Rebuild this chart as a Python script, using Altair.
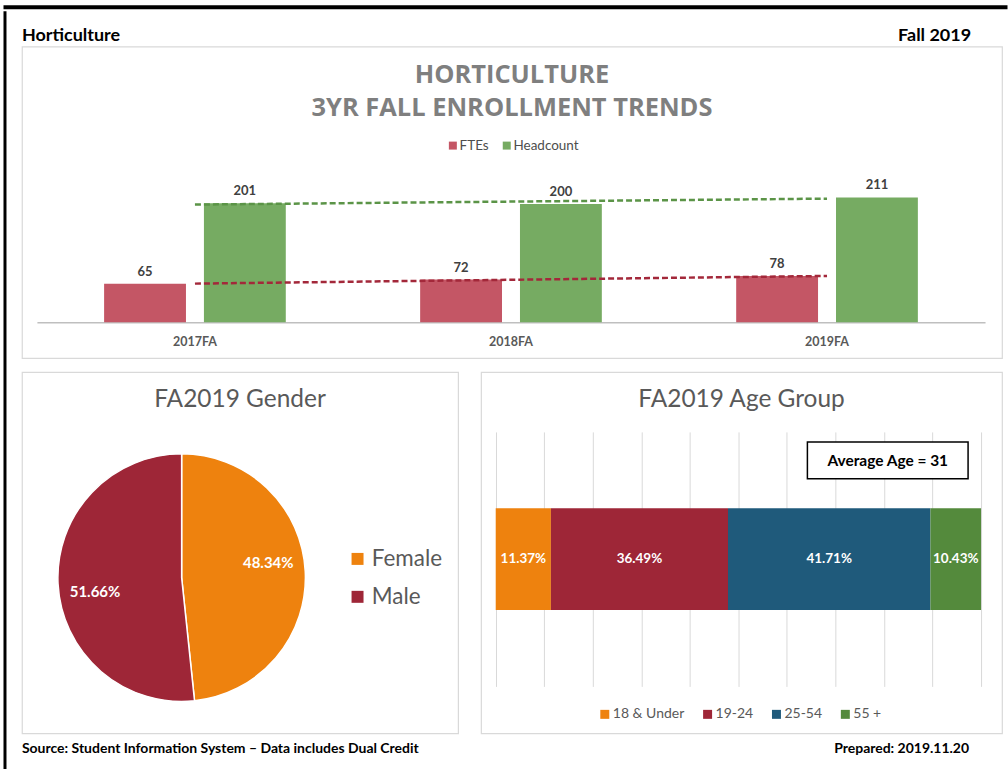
import altair as alt
import pandas as pd

# ---------------- data ----------------
terms = ["2017FA", "2018FA", "2019FA"]
term_index = [1, 2, 3]
ftes = [65, 72, 78]
headcount = [201, 200, 211]
series_names = ["FTEs", "Headcount"]

genders = ["Female", "Male"]
gender_pct = [48.34, 51.66]

age_groups = ["18 & Under", "19-24", "25-54", "55 +"]
age_pct = [11.37, 36.49, 41.71, 10.43]
average_age = 31

header_left = "Horticulture"
header_right = "Fall 2019"
footer_left = "Source: Student Information System \u2013 Data includes Dual Credit"
footer_right = "Prepared: 2019.11.20"
top_title_1 = "HORTICULTURE"
top_title_2 = "3YR FALL ENROLLMENT TRENDS"
gender_title = "FA2019 Gender"
age_title = "FA2019 Age Group"

# ---------------- styles ----------------
FONT = "Lato"
FTE_C = "#c45665"
HC_C = "#76ab62"
FTE_LINE = "#a3283a"
HC_LINE = "#5b9447"
ORANGE = "#ee820e"
DRED = "#9e2637"
BLUE = "#1f5a7b"
GREEN = "#548a3c"
PANEL = alt.ViewBackground(stroke="#d9d9d9", strokeWidth=1.2, fill="white")
NOFRAME = alt.ViewBackground(stroke="transparent", fill="white")

rows = []
for t, i, f, h in zip(terms, term_index, ftes, headcount):
    rows.append({"term": t, "idx": i, "series": series_names[0], "value": f})
    rows.append({"term": t, "idx": i, "series": series_names[1], "value": h})
enroll = pd.DataFrame(rows)

def txt(s):
    return pd.DataFrame({"t": [s]})

# ---------------- top panel ----------------
TW, TH = 982, 312
xs = alt.Scale(domain=terms, range=[15, 965], paddingInner=0, paddingOuter=0)
ys = alt.Scale(domain=[0, 250], range=[276, 128], nice=False, zero=True)
x_axis = alt.Axis(title=None, labelAngle=0, ticks=False, domainColor="#bfbfbf",
                  domainWidth=1.5, labelColor="#595959", labelFont=FONT,
                  labelFontWeight="bold", labelFontSize=12.5, labelPadding=13,
                  offset=-36)
xo = alt.XOffset("series:N", sort=series_names,
                 scale=alt.Scale(domain=series_names, paddingInner=0.18, paddingOuter=0.673))

bars = alt.Chart(enroll).mark_bar().encode(
    x=alt.X("term:N", sort=terms, scale=xs, axis=x_axis),
    xOffset=xo,
    y=alt.Y("value:Q", scale=ys, axis=None),
    color=alt.Color("series:N", sort=series_names,
                    scale=alt.Scale(domain=series_names, range=[FTE_C, HC_C]),
                    legend=alt.Legend(title=None, orient="none", legendX=425, legendY=92,
                                      direction="horizontal", symbolType="square",
                                      symbolSize=64, symbolStrokeWidth=0, labelFont=FONT,
                                      labelFontSize=13.5, labelColor="#4d4d4d",
                                      labelOffset=0, columnPadding=11)),
)
bar_labels = alt.Chart(enroll).mark_text(
    dy=-5, baseline="bottom", font=FONT, fontWeight="bold", fontSize=13, color="#404040"
).encode(
    x=alt.X("term:N", sort=terms, scale=xs, axis=x_axis),
    xOffset=xo,
    y=alt.Y("value:Q", scale=ys, axis=None),
    text="value:Q",
)

def trend(name, col):
    return alt.Chart(enroll).transform_filter(
        alt.datum.series == name
    ).transform_regression("idx", "value").mark_line(
        color=col, strokeDash=[6, 3], strokeWidth=2.5
    ).encode(
        x=alt.X("idx:Q", scale=alt.Scale(domain=[0.5, 3.5], range=[15, 965], nice=False, zero=False),
                axis=None),
        y=alt.Y("value:Q", scale=ys, axis=None),
    )

t1 = alt.Chart(txt(top_title_1)).mark_text(
    font="Open Sans", fontWeight="bold", fontSize=25.5, color="#7f7f7f", baseline="middle"
).encode(x=alt.value(491), y=alt.value(28), text="t:N")
t2 = alt.Chart(txt(top_title_2)).mark_text(
    font="Open Sans", fontWeight="bold", fontSize=25.5, color="#7f7f7f", baseline="middle"
).encode(x=alt.value(491), y=alt.value(61), text="t:N")

top_panel = alt.layer(
    alt.layer(bars, bar_labels), trend(series_names[0], FTE_LINE), trend(series_names[1], HC_LINE), t1, t2
).resolve_scale(x="independent").properties(width=TW, height=TH, view=PANEL)

# ---------------- gender pie ----------------
gdf = pd.DataFrame({"gender": genders, "pct": gender_pct, "order": list(range(len(genders)))})
PW, PH = 437, 362
CX, CY = 160, 206
gcolor = alt.Color("gender:N", sort=genders, scale=alt.Scale(domain=genders, range=[ORANGE, DRED]),
                   legend=alt.Legend(title=None, orient="none", legendX=325, legendY=176,
                                     symbolType="square", symbolSize=144, symbolStrokeWidth=0,
                                     labelFont=FONT, labelFontSize=22.5, labelColor="#595959",
                                     labelOffset=3, rowPadding=15))
arcs = alt.Chart(gdf).mark_arc(outerRadius=124, stroke="white", strokeWidth=1.5).encode(
    theta=alt.Theta("pct:Q", stack=True),
    color=gcolor,
    order=alt.Order("order:Q"),
    x=alt.value(CX), y=alt.value(CY),
)
arc_text = alt.Chart(gdf).transform_calculate(
    label="format(datum.pct, '.2f') + '%'"
).mark_text(radius=88, font=FONT, fontWeight="bold", fontSize=15, color="white").encode(
    theta=alt.Theta("pct:Q", stack=True, scale=alt.Scale(range=[-0.113, 6.170])),
    order=alt.Order("order:Q"),
    text="label:N",
    x=alt.value(CX), y=alt.value(CY),
)
g_title = alt.Chart(txt(gender_title)).mark_text(
    font=FONT, fontSize=24.5, color="#595959", baseline="middle"
).encode(x=alt.value(PW / 2), y=alt.value(28), text="t:N")
pie_panel = alt.layer(arcs, arc_text, g_title).resolve_scale(theta="independent").properties(
    width=PW, height=PH, view=PANEL)

# ---------------- age stacked bar ----------------
AW, AH = 522, 362
adf = pd.DataFrame({"group": age_groups, "pct": age_pct, "idx": list(range(len(age_groups))),
                    "grp": ["all"] * len(age_groups)})
axs = alt.Scale(domain=[0, 100], range=[14.7, 501], nice=False, zero=False)
ays = alt.Scale(domain=["all"], range=[60, 315], paddingInner=0, paddingOuter=0.75)
age_axis = alt.Axis(orient="top", values=list(range(0, 101, 10)), grid=True,
                    gridColor="#d9d9d9", gridWidth=1, labels=False, ticks=False,
                    domain=False, title=None)
abase = alt.Chart(adf).transform_stack(
    stack="pct", groupby=["grp"], as_=["x0", "x1"], sort=[alt.SortField("idx")]
).transform_calculate(
    mid="(datum.x0 + datum.x1) / 2", label="format(datum.pct, '.2f') + '%'"
)
abar = abase.mark_bar().encode(
    x=alt.X("x0:Q", scale=axs, axis=age_axis),
    x2="x1:Q",
    y=alt.Y("grp:N", scale=ays, axis=None),
    color=alt.Color("group:N", sort=age_groups,
                    scale=alt.Scale(domain=age_groups, range=[ORANGE, DRED, BLUE, GREEN]),
                    legend=alt.Legend(title=None, orient="none", legendX=117, legendY=336,
                                      direction="horizontal", symbolType="square",
                                      symbolSize=81, symbolStrokeWidth=0, labelFont=FONT,
                                      labelFontSize=14, labelColor="#595959",
                                      labelOffset=1, columnPadding=16)),
)
atext = abase.mark_text(font=FONT, fontWeight="bold", fontSize=13.5, color="white").encode(
    x=alt.X("mid:Q", scale=axs, axis=age_axis),
    y=alt.Y("grp:N", scale=ays, axis=None),
    text="label:N",
)
avg_box = alt.Chart(txt("box")).mark_rect(fill="white", stroke="black", strokeWidth=1.5).encode(
    x=alt.value(327), x2=alt.value(488), y=alt.value(70), y2=alt.value(107)
)
avg_text = alt.Chart(txt(f"Average Age = {average_age}")).mark_text(
    font=FONT, fontWeight="bold", fontSize=15.5, color="black", baseline="middle"
).encode(x=alt.value(407.5), y=alt.value(89), text="t:N")
a_title = alt.Chart(txt(age_title)).mark_text(
    font=FONT, fontSize=24.5, color="#595959", baseline="middle"
).encode(x=alt.value(AW / 2), y=alt.value(28), text="t:N")
age_panel = alt.layer(abar, atext, avg_box, avg_text, a_title).properties(
    width=AW, height=AH, view=PANEL)

# ---------------- header / footer ----------------
def side_text(s, x, y, align, size):
    return alt.Chart(txt(s)).mark_text(
        font=FONT, fontWeight="bold", fontSize=size, color="black", align=align, baseline="middle"
    ).encode(x=alt.value(x), y=alt.value(y), text="t:N")

header = alt.layer(
    side_text(header_left, 0, 25, "left", 18),
    side_text(header_right, 951, 25, "right", 18),
).properties(width=982, height=34, view=NOFRAME)
footer = alt.layer(
    side_text(footer_left, 0, 14, "left", 14),
    side_text(footer_right, 949, 14, "right", 14),
).properties(width=982, height=35, view=NOFRAME)

# ---------------- frame ----------------
def black_block(w, h):
    return alt.Chart(txt("b")).mark_rect(opacity=0).encode(
        x=alt.value(0), x2=alt.value(1), y=alt.value(0), y2=alt.value(1)
    ).properties(width=w, height=h, view=alt.ViewBackground(fill="black", stroke="transparent"))

IND = dict(color="independent")
row = alt.hconcat(pie_panel, age_panel, spacing=21).resolve_scale(**IND).resolve_legend(**IND)
mid = alt.vconcat(top_panel, row, spacing=12).resolve_scale(**IND).resolve_legend(**IND)
content = alt.vconcat(header, mid, footer, spacing=0).resolve_scale(**IND).resolve_legend(**IND)
chart = alt.vconcat(
    black_block(1006, 4),
    alt.hconcat(black_block(3, 762), content, spacing=14).resolve_scale(**IND).resolve_legend(**IND),
    spacing=0,
).resolve_scale(**IND).resolve_legend(**IND).properties(
    padding={"left": 2, "top": 3, "right": 0, "bottom": 0},
    background="white",
).configure_view(stroke="transparent")

chart.save("out.html", embed_options={"renderer": "svg", "actions": False})
